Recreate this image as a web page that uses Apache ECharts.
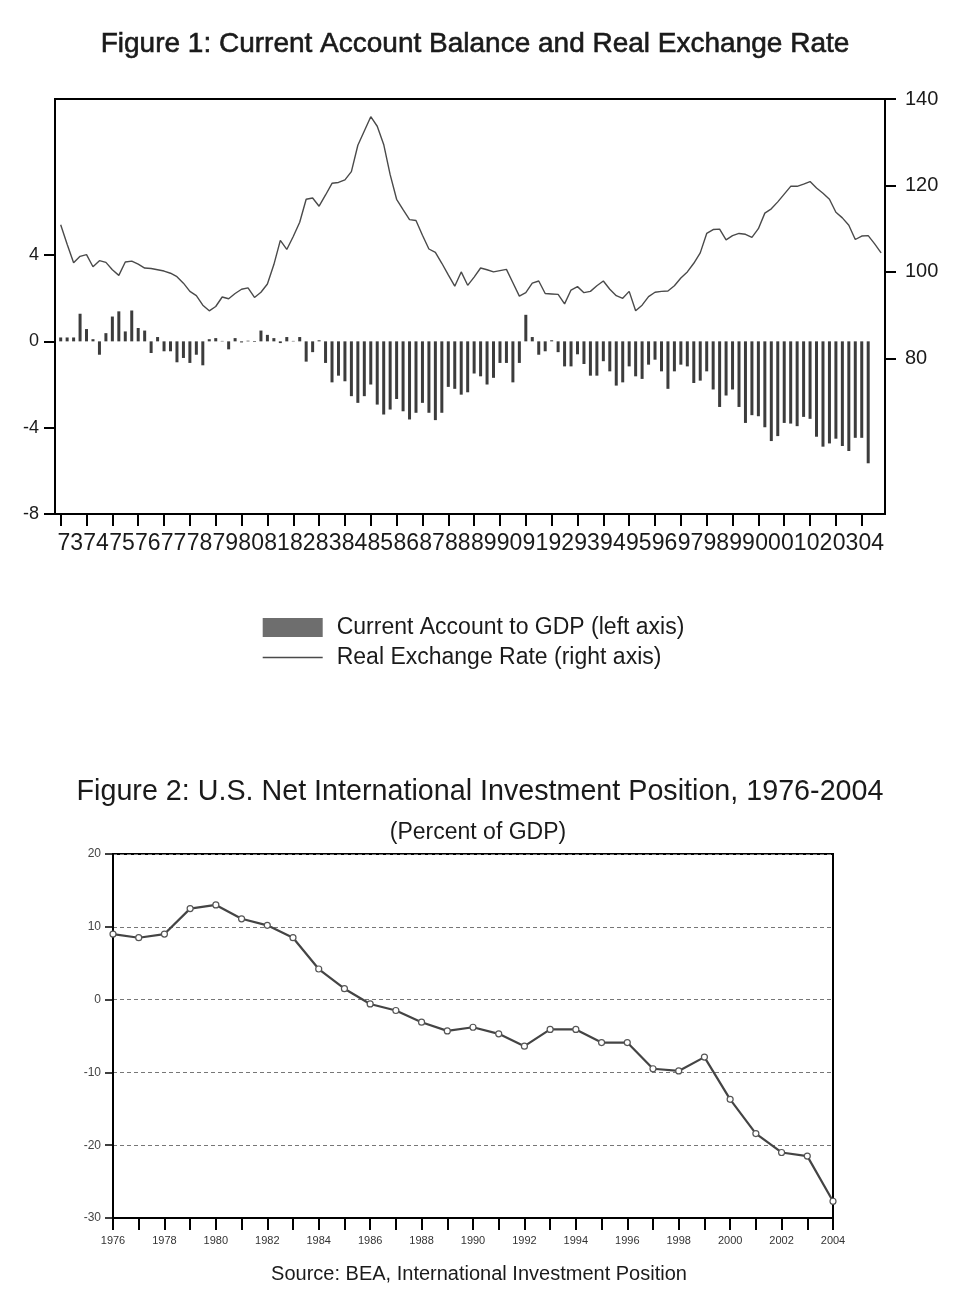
<!DOCTYPE html>
<html>
<head>
<meta charset="utf-8">
<script src="https://cdn.jsdelivr.net/npm/echarts@6/dist/echarts.min.js"></script>
<style>
html,body{margin:0;padding:0;background:#fff;}
#chart{width:960px;height:1294px;}
</style>
</head>
<body>
<div id="chart"></div>
<script>
// ---------- Figure 1 data (quarterly, starting 1973Q1) ----------
const fig1StartYear = 1973;
const caToGdp = [
  0.18, 0.18, 0.18, 1.28, 0.57, 0.1, -0.62, 0.38,
  1.15, 1.39, 0.46, 1.43, 0.62, 0.5, -0.54, 0.2,
  -0.46, -0.46, -0.97, -0.77, -1.0, -0.62, -1.11, 0.1,
  0.15, 0.02, -0.37, 0.15, -0.05, 0.03, -0.03, 0.5,
  0.3, 0.15, -0.08, 0.2, 0.02, 0.2, -0.94, -0.5,
  0.05, -1.0, -1.9, -1.59, -1.85, -2.54, -2.85, -2.54,
  -2.0, -2.93, -3.39, -3.16, -2.67, -3.24, -3.62, -3.31,
  -2.85, -3.31, -3.65, -3.31, -2.11, -2.2, -2.47, -2.36,
  -1.49, -1.62, -2.0, -1.69, -1.0, -1.0, -1.9, -1.0,
  1.23, 0.2, -0.62, -0.46, 0.05, -0.5, -1.16, -1.16,
  -0.6, -1.05, -1.59, -1.59, -0.92, -1.39, -2.05, -1.9,
  -1.16, -1.62, -1.74, -1.08, -0.85, -1.39, -2.2, -1.39,
  -1.08, -1.16, -1.93, -1.82, -1.39, -2.23, -3.04, -2.51,
  -2.23, -3.04, -3.78, -3.42, -3.47, -3.98, -4.62, -4.39,
  -3.78, -3.81, -3.93, -3.5, -3.59, -4.42, -4.88, -4.73,
  -4.51, -4.85, -5.08, -4.47, -4.47, -5.65
];
const realExchangeRate = [
  110.9, 106.4, 102.1, 103.6, 104.0, 101.2, 102.6, 102.2,
  100.5, 99.2, 102.3, 102.5, 101.8, 100.9, 100.8, 100.5,
  100.2, 99.7, 98.9, 97.4, 95.5, 94.5, 92.3, 91.0,
  92.0, 94.2, 93.8, 95.0, 96.0, 96.3, 94.1, 95.3,
  97.2, 101.7, 107.3, 105.2, 108.2, 111.5, 116.8, 117.1,
  115.2, 117.8, 120.5, 120.7, 121.3, 123.2, 129.3, 132.6,
  135.9, 133.7, 129.5, 122.5, 116.8, 114.4, 112.1, 111.9,
  108.5, 105.3, 104.5, 102.0, 99.3, 96.7, 100.0, 96.9,
  98.8, 100.9, 100.5, 100.0, 100.3, 100.6, 97.5, 94.4,
  95.2, 97.4, 97.9, 95.0, 94.9, 94.8, 92.6, 95.8,
  96.6, 95.2, 95.5, 96.8, 97.9, 96.0, 94.5, 93.9,
  95.5, 91.0, 92.3, 94.3, 95.3, 95.5, 95.6, 96.8,
  98.6, 100.0, 102.0, 104.4, 108.9, 109.8, 109.9, 107.4,
  108.4, 108.9, 108.7, 108.0, 110.0, 113.6, 114.6, 116.2,
  118.0, 119.8, 119.8, 120.3, 120.9, 119.4, 118.2, 116.8,
  113.8, 112.5, 110.8, 107.5, 108.3, 108.4, 106.5, 104.4
];
const fig1YearTicks = [];
for (let y = 1973; y <= 2004; y++) fig1YearTicks.push(y);
const fig1LeftTicks = [-8, -4, 0, 4];
const fig1RightTicks = [80, 100, 120, 140];

// ---------- Figure 2 data (annual) ----------
const niipYears = [1976,1977,1978,1979,1980,1981,1982,1983,1984,1985,1986,1987,1988,1989,1990,
                   1991,1992,1993,1994,1995,1996,1997,1998,1999,2000,2001,2002,2003,2004];
const niipPctGdp = [9.0, 8.5, 9.0, 12.5, 13.0, 11.1, 10.2, 8.5, 4.2, 1.5, -0.6, -1.5, -3.1, -4.3, -3.8,
                    -4.7, -6.4, -4.1, -4.1, -5.9, -5.9, -9.5, -9.8, -7.9, -13.7, -18.4, -21.0, -21.5, -27.7];

// ---------- build ----------
const FONT = '"Liberation Sans", Arial, sans-serif';
const caData = caToGdp.map((v, i) => [fig1StartYear + i / 4, v]);
const rerData = realExchangeRate.map((v, i) => [fig1StartYear + i / 4, v]);
const niipData = niipYears.map((y, i) => [y, niipPctGdp[i]]);
const labelPos = fig1YearTicks.map(y => y + 0.37);

const chart = echarts.init(document.getElementById('chart'), null, {renderer: 'canvas'});
const option = {
  backgroundColor: '#ffffff',
  animation: false,
  title: [
    {text: 'Figure 1: Current Account Balance and Real Exchange Rate', left: 470, textAlign: 'center', top: 25,
     textStyle: {fontFamily: FONT, fontSize: 28, fontWeight: 'normal', color: '#1a1a1a',
                 textBorderColor: '#1a1a1a', textBorderWidth: 0.6}},
    {text: 'Figure 2: U.S. Net International Investment Position, 1976-2004', left: 475, textAlign: 'center', top: 773,
     textStyle: {fontFamily: FONT, fontSize: 28.7, fontWeight: 'normal', color: '#1a1a1a'}},
    {text: '(Percent of GDP)', left: 473, textAlign: 'center', top: 816,
     textStyle: {fontFamily: FONT, fontSize: 23, fontWeight: 'normal', color: '#1a1a1a'}},
    {text: 'Source: BEA, International Investment Position', left: 474, textAlign: 'center', top: 1259,
     textStyle: {fontFamily: FONT, fontSize: 20, fontWeight: 'normal', color: '#1a1a1a'}}
  ],
  legend: {
    orient: 'vertical', left: 262, top: 616, itemWidth: 60, itemHeight: 19, itemGap: 7,
    padding: 0, selectedMode: false,
    textStyle: {fontFamily: FONT, fontSize: 23, color: '#1a1a1a', padding: [0, 0, 0, 9]},
    data: [
      {name: 'Current Account to GDP (left axis)', icon: 'rect', itemStyle: {color: '#6e6e6e'}},
      {name: 'Real Exchange Rate (right axis)', itemStyle: {opacity: 0, color: 'rgba(0,0,0,0)', borderWidth: 0},
       lineStyle: {color: '#4a4a4a', width: 1.4}}
    ]
  },
  grid: [
    {left: 55, top: 99, width: 830, height: 415, show: true, borderColor: '#000', borderWidth: 2, backgroundColor: 'transparent'},
    {left: 113, top: 854, width: 720, height: 364, show: true, borderColor: '#000', borderWidth: 2, backgroundColor: 'transparent'}
  ],
  xAxis: [
    {type: 'value', gridIndex: 0, min: 1972.78, max: 2004.9,
     axisLine: {show: true, onZero: false, lineStyle: {color: '#000', width: 2}},
     axisTick: {show: true, customValues: fig1YearTicks, length: 12, lineStyle: {color: '#000', width: 2}},
     axisLabel: {show: true, customValues: labelPos, margin: 18,
       formatter: v => String(Math.floor(v + 1e-6) % 100).padStart(2, '0'),
       fontFamily: FONT, fontSize: 23, color: '#1a1a1a'},
     splitLine: {show: false}},
    {type: 'value', gridIndex: 1, min: 1976, max: 2004, interval: 1,
     axisLine: {show: true, onZero: false, lineStyle: {color: '#000', width: 2}},
     axisTick: {show: true, length: 12, lineStyle: {color: '#000', width: 2}},
     axisLabel: {show: true, margin: 17, formatter: v => (v % 2 === 0 ? String(v) : ''),
       fontFamily: FONT, fontSize: 11, color: '#333'},
     splitLine: {show: false}}
  ],
  yAxis: [
    {type: 'value', gridIndex: 0, position: 'left', min: -8, max: 11.23,
     axisLine: {show: true, onZero: false, lineStyle: {color: '#000', width: 2}},
     axisTick: {show: true, customValues: fig1LeftTicks, length: 11, lineStyle: {color: '#000', width: 2}},
     axisLabel: {show: true, customValues: fig1LeftTicks, margin: 16, fontFamily: FONT, fontSize: 18, color: '#1a1a1a'},
     splitLine: {show: false}},
    {type: 'value', gridIndex: 0, position: 'right', min: 44, max: 140,
     axisLine: {show: true, onZero: false, lineStyle: {color: '#000', width: 2}},
     axisTick: {show: true, customValues: fig1RightTicks, length: 11, lineStyle: {color: '#000', width: 2}},
     axisLabel: {show: true, customValues: fig1RightTicks, margin: 20, fontFamily: FONT, fontSize: 20, color: '#1a1a1a'},
     splitLine: {show: false}},
    {type: 'value', gridIndex: 1, min: -30, max: 20, interval: 10,
     axisLine: {show: true, onZero: false, lineStyle: {color: '#000', width: 2}},
     axisTick: {show: true, length: 8, lineStyle: {color: '#000', width: 1.5}},
     axisLabel: {show: true, margin: 12, fontFamily: FONT, fontSize: 12, color: '#444'},
     splitLine: {show: true, lineStyle: {color: '#777', width: 1, type: [4, 3]}}}
  ],
  series: [
    {name: 'Current Account to GDP (left axis)', type: 'bar', xAxisIndex: 0, yAxisIndex: 0,
     data: caData, barWidth: 3, itemStyle: {color: '#3c3c3c'}},
    {name: 'Real Exchange Rate (right axis)', type: 'line', xAxisIndex: 0, yAxisIndex: 1,
     data: rerData, symbol: 'none', lineStyle: {color: '#4a4a4a', width: 1.4}, itemStyle: {color: '#4a4a4a'}},
    {name: 'NIIP', type: 'line', xAxisIndex: 1, yAxisIndex: 2, data: niipData,
     symbol: 'circle', symbolSize: 6, lineStyle: {color: '#444', width: 2.2},
     itemStyle: {color: '#fff', borderColor: '#555', borderWidth: 1.2}}
  ]
};
chart.setOption(option);
</script>
</body>
</html>
